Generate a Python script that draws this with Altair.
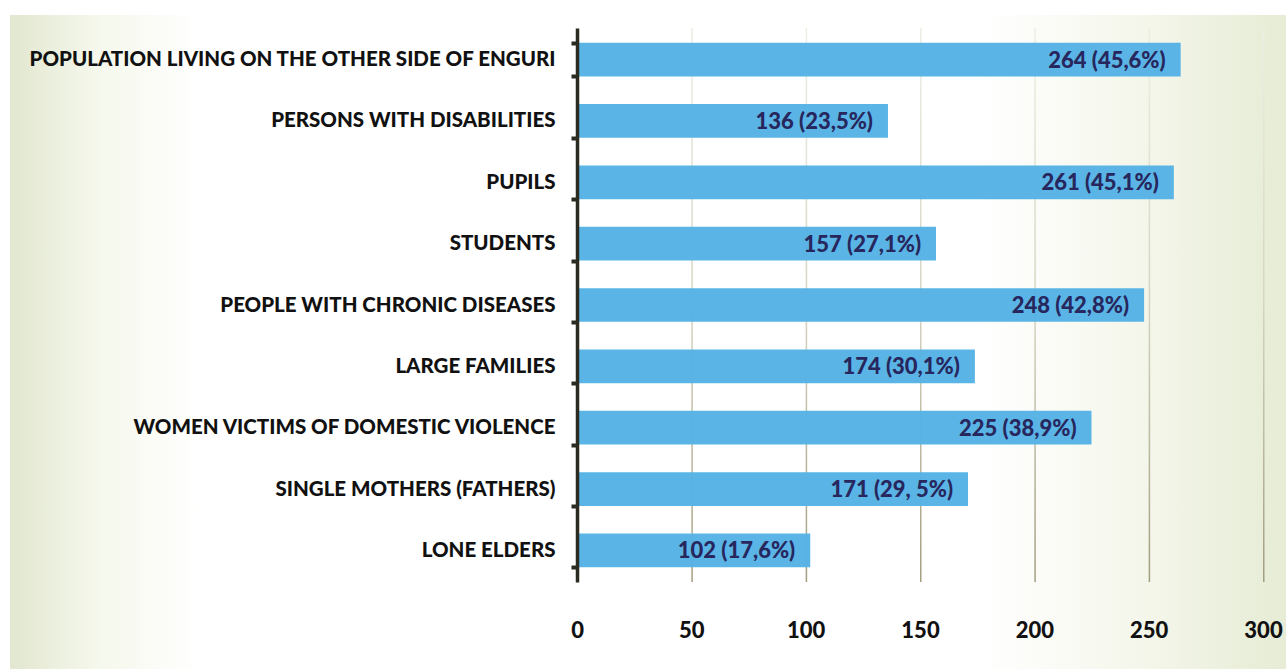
import altair as alt
import pandas as pd

categories = [
    "POPULATION LIVING ON THE OTHER SIDE OF ENGURI",
    "PERSONS WITH DISABILITIES",
    "PUPILS",
    "STUDENTS",
    "PEOPLE WITH CHRONIC DISEASES",
    "LARGE FAMILIES",
    "WOMEN VICTIMS OF DOMESTIC VIOLENCE",
    "SINGLE MOTHERS (FATHERS)",
    "LONE ELDERS",
]
values = [264, 136, 261, 157, 248, 174, 225, 171, 102]
labels = [
    "264 (45,6%)", "136 (23,5%)", "261 (45,1%)", "157 (27,1%)", "248 (42,8%)",
    "174 (30,1%)", "225 (38,9%)", "171 (29, 5%)", "102 (17,6%)",
]
x_ticks = [0, 50, 100, 150, 200, 250, 300]
grid_ticks = [50, 100, 150, 200, 250, 300]

df = pd.DataFrame({"cat": categories, "val": values, "lab": labels})
grid_df = pd.DataFrame({"g": grid_ticks})

FONT = "Lato, Roboto, sans-serif"
W, H = 686, 554
PL, PT = 577, 28

bg = alt.Chart(pd.DataFrame({"a": [0]})).mark_rect(
    fill=alt.Gradient(
        gradient="linear", x1=0, x2=1, y1=0, y2=0,
        stops=[
            alt.GradientStop(color="#e2e7d0", offset=0),
            alt.GradientStop(color="#f5f8ec", offset=0.07),
            alt.GradientStop(color="#ffffff", offset=0.15),
            alt.GradientStop(color="#ffffff", offset=0.76),
            alt.GradientStop(color="#f5f7ec", offset=0.88),
            alt.GradientStop(color="#e6ecd5", offset=1),
        ],
    )
).encode(
    x=alt.value(10 - PL), x2=alt.value(1286 - PL),
    y=alt.value(15 - PT), y2=alt.value(669 - PT),
)

xscale = alt.Scale(domain=[0, 300], nice=False)
yscale = alt.Scale(paddingInner=0.45, paddingOuter=0.24)

grid = alt.Chart(grid_df).mark_rect(
    x2Offset=1.5,
    fill=alt.Gradient(
        gradient="linear", x1=0, x2=0, y1=0, y2=1,
        stops=[
            alt.GradientStop(color="#eeeee4", offset=0),
            alt.GradientStop(color="#d6d4c2", offset=0.5),
            alt.GradientStop(color="#a29e80", offset=1),
        ],
    ),
).encode(
    x=alt.X("g:Q", scale=xscale, title=None,
            axis=alt.Axis(values=x_ticks, grid=False, domain=False, ticks=False,
                          labelFlush=False, labelPadding=38, labelFont=FONT,
                          labelFontSize=22, labelFontWeight=900,
                          labelColor="#111111", zindex=1)),
    x2="g:Q",
    y=alt.value(0), y2=alt.value(H),
)

bars = alt.Chart(df).mark_bar(color="#55b3e5", opacity=0.97).encode(
    x=alt.X("val:Q", scale=xscale, title=None),
    y=alt.Y("cat:N", sort=categories, title=None, scale=yscale,
            axis=alt.Axis(domainColor="#2b2b22", domainWidth=3.5, tickColor="#2b2b22",
                          tickWidth=4, tickSize=6, tickBand="extent", labelPadding=16,
                          labelFont=FONT, labelFontSize=20.5, labelFontWeight=900,
                          labelColor="#111111", labelLimit=700, zindex=1)),
)

text = alt.Chart(df).mark_text(
    align="right", baseline="middle", dx=-15, dy=1, font=FONT, fontSize=22,
    fontWeight=900, color="#27275e"
).encode(x=alt.X("val:Q", scale=xscale), y=alt.Y("cat:N", sort=categories, scale=yscale),
         text="lab:N")

chart = alt.layer(bg, grid, bars, text).properties(
    width=W, height=H,
    autosize=alt.AutoSizeParams(type="none"),
    padding={"left": PL, "top": PT, "right": 1286 - PL - W, "bottom": 669 - PT - H},
).configure_view(stroke=None)

chart.save("out.html", embed_options={"renderer": "svg", "actions": False})
